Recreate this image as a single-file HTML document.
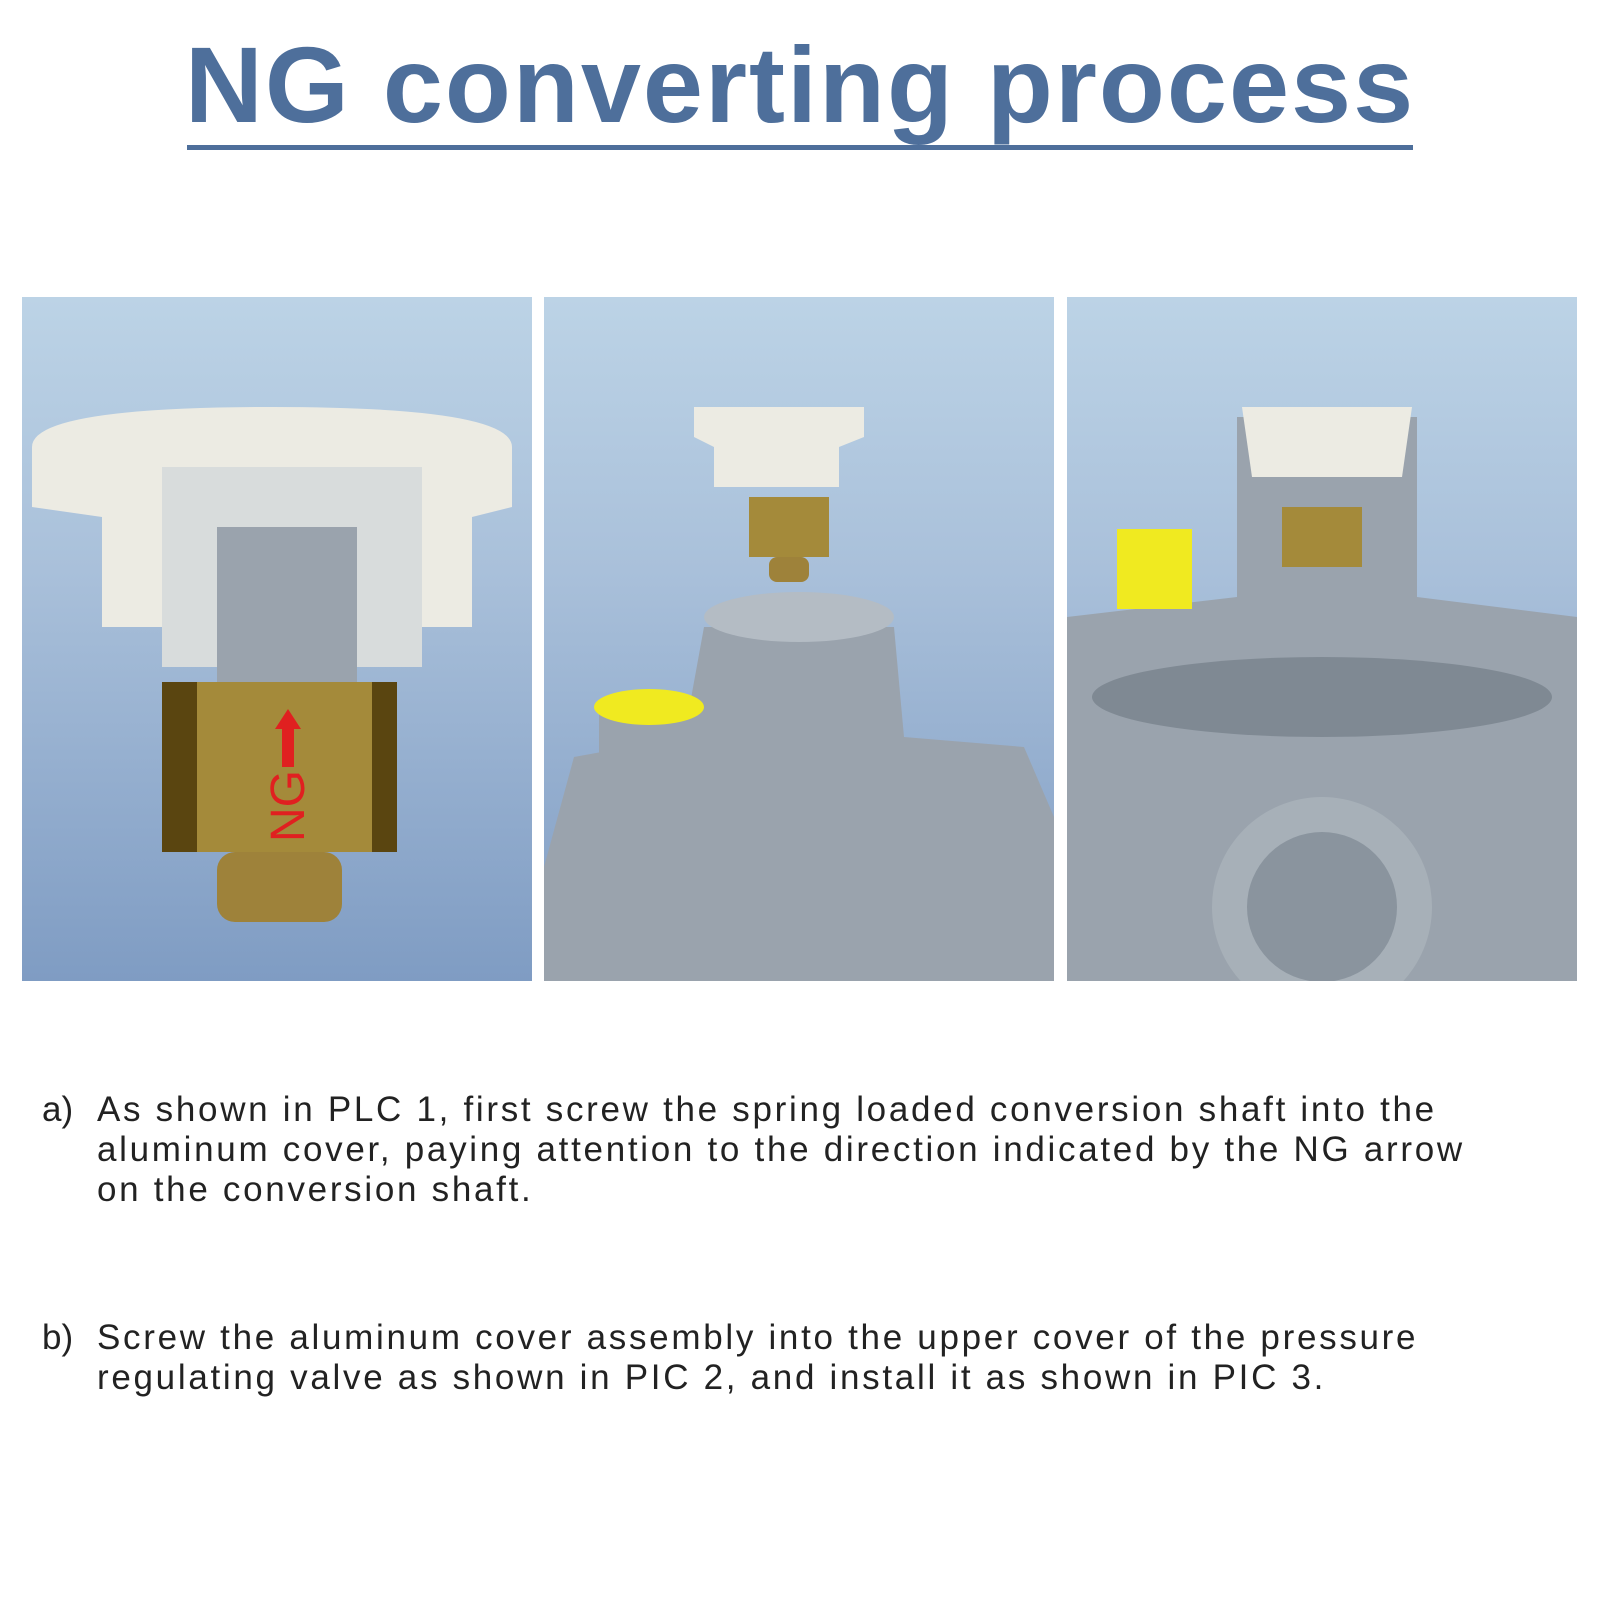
<!DOCTYPE html>
<html><head><meta charset="utf-8"><style>
body{margin:0;width:1600px;height:1600px;background:#fff;position:relative;overflow:hidden;font-family:"Liberation Sans",sans-serif}
.title{position:absolute;left:0;width:1600px;top:22px;text-align:center;font-weight:bold;font-size:108px;color:#4e6f9b;letter-spacing:2px}
.ul{position:absolute;left:187px;width:1226px;top:145px;height:5px;background:#4e6f9b}
.p{position:absolute;top:297px;width:510px;height:684px;background:linear-gradient(#bcd3e6,#a9c0da 40%,#7f9cc3);overflow:hidden}
.t{position:absolute;left:42px;font-size:35px;color:#222;line-height:40px;letter-spacing:2.7px;white-space:nowrap}
.t span{display:inline-block;width:55px;letter-spacing:0}
.t div{padding-left:55px}
</style></head><body>
<div class="title">NG converting process</div>
<div class="ul"></div>
<div class="p" style="left:22px">
<svg width="510" height="684">
<path d="M10 150 Q10 110 250 110 Q490 110 490 150 L490 210 L450 220 L450 330 L80 330 L80 220 L10 210Z" fill="#ecebe3"/>
<rect x="140" y="170" width="260" height="200" fill="#d8dcdc"/>
<rect x="195" y="230" width="140" height="160" fill="#9aa3ad"/>
<rect x="140" y="385" width="235" height="170" fill="#a48a3a"/>
<rect x="140" y="385" width="35" height="170" fill="#5a4510"/>
<rect x="350" y="385" width="25" height="170" fill="#5a4510"/>
<rect x="195" y="555" width="125" height="70" rx="18" fill="#9e823a"/>
<rect x="260" y="430" width="12" height="40" fill="#e02020"/>
<polygon points="253,432 266,412 279,432" fill="#e02020"/>
<text x="0" y="0" transform="translate(282,545) rotate(-90)" font-size="48" fill="#e02020" font-family="Liberation Sans">NG</text>
</svg></div>
<div class="p" style="left:544px">
<svg width="510" height="684">
<path d="M150 110 L320 110 L320 140 L295 150 L295 190 L170 190 L170 150 L150 140Z" fill="#ecebe3"/>
<rect x="205" y="200" width="80" height="60" fill="#a48a3a"/>
<rect x="225" y="260" width="40" height="25" rx="8" fill="#9e823a"/>
<path d="M0 570 L30 460 L140 440 L160 330 L350 330 L360 440 L480 450 L510 520 L510 684 L0 684Z" fill="#9aa3ad"/>
<ellipse cx="255" cy="320" rx="95" ry="25" fill="#b4bcc4"/>
<rect x="55" y="410" width="100" height="100" fill="#9aa3ad"/>
<ellipse cx="105" cy="410" rx="55" ry="18" fill="#f0ea20"/>
</svg></div>
<div class="p" style="left:1067px">
<svg width="510" height="684">
<path d="M0 320 L170 300 L170 120 L350 120 L350 300 L510 320 L510 684 L0 684Z" fill="#9aa3ad"/>
<path d="M175 110 L345 110 L335 180 L185 180Z" fill="#ecebe3"/>
<rect x="215" y="210" width="80" height="60" fill="#a48a3a"/>
<ellipse cx="255" cy="400" rx="230" ry="40" fill="#7f8993"/>
<ellipse cx="255" cy="610" rx="110" ry="110" fill="#a7b0b8"/>
<ellipse cx="255" cy="610" rx="75" ry="75" fill="#8a949e"/>
<rect x="50" y="232" width="75" height="80" fill="#f0ea20"/>
</svg></div>
<div class="t" style="top:1090px"><span>a)</span>As shown in PLC 1, first screw the spring loaded conversion shaft into the<div>aluminum cover, paying attention to the direction indicated by the NG arrow</div><div>on the conversion shaft.</div></div>
<div class="t" style="top:1318px"><span>b)</span>Screw the aluminum cover assembly into the upper cover of the pressure<div>regulating valve as shown in PIC 2, and install it as shown in PIC 3.</div></div>
</body></html>
